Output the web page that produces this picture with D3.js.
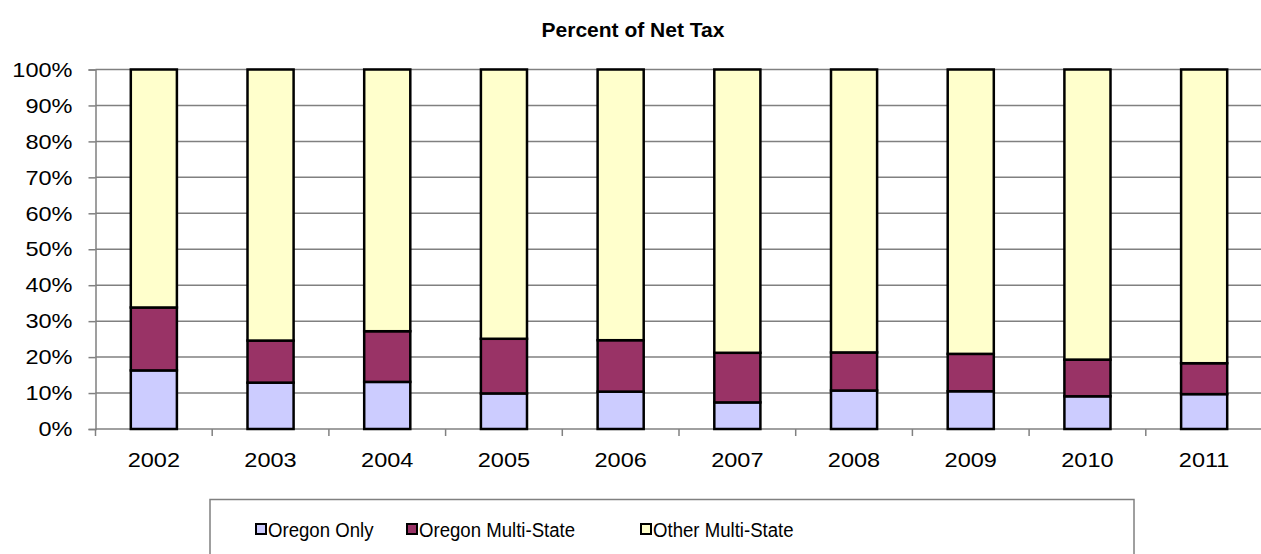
<!DOCTYPE html>
<html><head><meta charset="utf-8">
<script src="https://cdn.jsdelivr.net/npm/d3@7"></script>
<style>body{margin:0;background:#fff}svg{display:block}text{font-family:"Liberation Sans",Arial,sans-serif}</style>
</head><body><svg id="c" width="1261" height="554"></svg>
<script>
const years = ["2002","2003","2004","2005","2006","2007","2008","2009","2010","2011"];
const oregonOnly = [16.3, 12.9, 13.1, 9.9, 10.4, 7.4, 10.7, 10.5, 9.1, 9.7];
const oregonMulti = [17.5, 11.7, 14.1, 15.2, 14.3, 13.8, 10.6, 10.4, 10.2, 8.6];
const otherMulti = oregonOnly.map((v,i)=>100 - v - oregonMulti[i]);
const seriesNames = ["Oregon Only","Oregon Multi-State","Other Multi-State"];
const colors = ["#ccccff","#993366","#ffffcc"];
const yTicks = [0,10,20,30,40,50,60,70,80,90,100];

(function(){
const svg = d3.select("#c");
const L = 95.5, R = 95.5 + 116.7*10, T = 69.5, B = 429;
const x = d3.scaleBand().domain(years).range([L,R]).paddingInner(0.605).paddingOuter(0.3025);
const y = d3.scaleLinear().domain([0,100]).range([B,T]);
const stretch = (sel, k) => sel.each(function(){
  const w = this.getComputedTextLength();
  d3.select(this).attr("textLength", w*k).attr("lengthAdjust","spacingAndGlyphs");
});

svg.append("text").attr("x",633).attr("y",37).attr("text-anchor","middle")
  .attr("font-size",21).attr("font-weight","bold").text("Percent of Net Tax");

svg.append("g").selectAll("line").data(yTicks.filter(d=>d>0)).join("line")
  .attr("x1",L).attr("x2",1261).attr("y1",d=>y(d)).attr("y2",d=>y(d))
  .attr("stroke","#808080").attr("stroke-width",1.5);

const ya = svg.append("g").attr("transform",`translate(${L},0)`)
  .call(d3.axisLeft(y).tickValues(yTicks).tickFormat(d=>d+"%").tickSize(7).tickPadding(16));
ya.select(".domain").attr("stroke","#808080").attr("stroke-width",1.5);
ya.selectAll(".tick line").attr("stroke","#808080").attr("stroke-width",1.5);
ya.selectAll("text").attr("font-size",21).attr("fill","#000")
  .style("font-family","Liberation Sans, Arial, sans-serif").call(stretch,1.12);

const step = x.step();
svg.append("line").attr("x1",L).attr("x2",1261).attr("y1",B).attr("y2",B)
  .attr("stroke","#808080").attr("stroke-width",1.5);
const bounds = d3.range(0, years.length+1).map(i=>L + i*step);
svg.append("g").selectAll("line").data(bounds).join("line")
  .attr("x1",d=>d).attr("x2",d=>d).attr("y1",B).attr("y2",B+7)
  .attr("stroke","#808080").attr("stroke-width",1.5);
svg.append("g").selectAll("text").data(years).join("text")
  .attr("x",d=>x(d)+x.bandwidth()/2).attr("y",467).attr("text-anchor","middle")
  .attr("font-size",21).text(d=>d).call(stretch,1.12);

const data = years.map((yr,i)=>({year:yr, "Oregon Only":oregonOnly[i], "Oregon Multi-State":oregonMulti[i], "Other Multi-State":otherMulti[i]}));
const stacked = d3.stack().keys(seriesNames)(data);
svg.append("g").selectAll("g").data(stacked).join("g").attr("fill",(d,i)=>colors[i])
  .selectAll("rect").data(d=>d).join("rect")
  .attr("x",d=>x(d.data.year)).attr("width",x.bandwidth())
  .attr("y",d=>y(d[1])).attr("height",d=>y(d[0])-y(d[1]))
  .attr("stroke","#000").attr("stroke-width",2.5);

const lg = svg.append("g");
lg.append("rect").attr("x",210).attr("y",499.5).attr("width",924).attr("height",70)
  .attr("fill","#fff").attr("stroke","#808080").attr("stroke-width",1.5);
const lx = [261, 412, 646];
seriesNames.forEach((n,i)=>{
  lg.append("rect").attr("x",lx[i]-5).attr("y",524).attr("width",10).attr("height",10)
    .attr("fill",colors[i]).attr("stroke","#000").attr("stroke-width",2);
  lg.append("text").attr("x",lx[i]+7).attr("y",537).attr("font-size",20).text(n).call(stretch,0.93);
});
})();
</script></body></html>
